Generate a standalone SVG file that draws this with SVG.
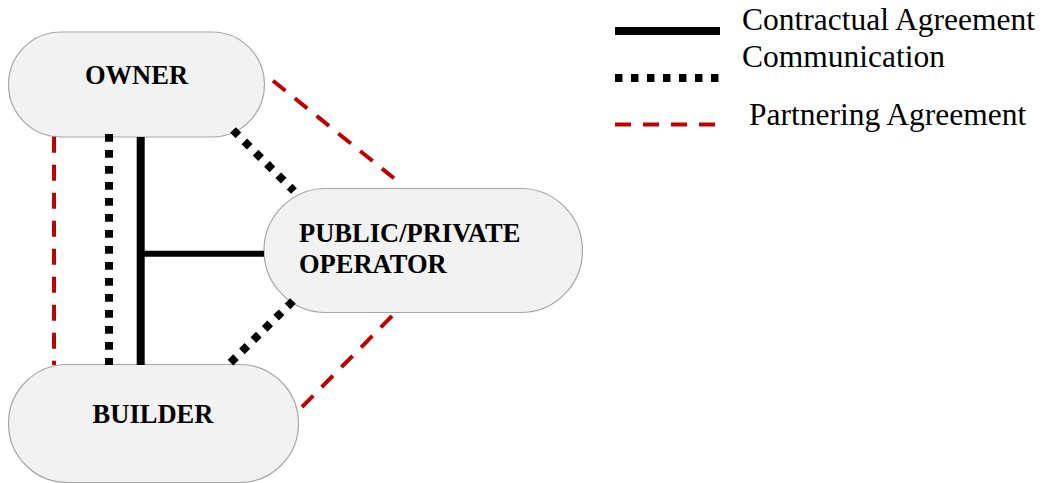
<svg xmlns="http://www.w3.org/2000/svg" width="1045" height="483" viewBox="0 0 1045 483">
  <style>
    .node rect { fill: #f2f2f2; stroke: #a6a6a6; stroke-width: 1.2; }
    .node text { font-family: "Liberation Serif", "Times New Roman", serif; font-weight: bold; font-size: 26.5px; fill: #000; }
    .contract { stroke: #000; stroke-width: 8; fill: none; }
    .comm { stroke: #000; stroke-width: 8; stroke-dasharray: 7.7 8.3; fill: none; }
    .partner { stroke: #c00000; stroke-width: 4; stroke-dasharray: 16 12; fill: none; }
    .legend text { font-family: "Liberation Serif", "Times New Roman", serif; font-size: 31.5px; fill: #000; }
  </style>

  <!-- Parties -->
  <g id="owner" class="node">
    <rect x="8.5" y="32" width="256" height="105" rx="52.5" ry="52.5"/>
    <text x="136.5" y="84" text-anchor="middle">OWNER</text>
  </g>
  <g id="operator" class="node">
    <rect x="264" y="188.5" width="318.5" height="124" rx="62" ry="62"/>
    <text x="299" y="241.7">PUBLIC/PRIVATE</text>
    <text x="299" y="272.7">OPERATOR</text>
  </g>
  <g id="builder" class="node">
    <rect x="8.5" y="364.5" width="290" height="118" rx="59" ry="59"/>
    <text x="153" y="422.7" text-anchor="middle">BUILDER</text>
  </g>

  <!-- Relationships between parties -->
  <g id="connectors">
    <!-- contractual agreement -->
    <line class="contract" x1="140.7" y1="137" x2="140.7" y2="365"/>
    <line class="contract" x1="144" y1="253.7" x2="264" y2="253.7" style="stroke-width:6"/>
    <!-- communication -->
    <line class="comm" x1="109" y1="134" x2="109" y2="365"/>
    <line class="comm" x1="233" y1="130" x2="294" y2="191"/>
    <line class="comm" x1="293" y1="301" x2="228" y2="365"/>
    <!-- partnering agreement -->
    <line class="partner" x1="54" y1="136.7" x2="54" y2="365"/>
    <line class="partner" x1="273" y1="80.7" x2="394" y2="178.3"/>
    <line class="partner" x1="392" y1="316" x2="301.7" y2="407.3"/>
  </g>

  <!-- Key -->
  <g id="legend" class="legend">
    <line class="contract" x1="615" y1="31" x2="720" y2="31"/>
    <line class="comm" x1="615" y1="78" x2="720" y2="78" style="stroke-dasharray:7.4 8.6"/>
    <line class="partner" x1="615" y1="124.5" x2="720" y2="124.5"/>
    <text x="742" y="30">Contractual Agreement</text>
    <text x="742" y="66.7">Communication</text>
    <text x="749" y="125">Partnering Agreement</text>
  </g>
</svg>
